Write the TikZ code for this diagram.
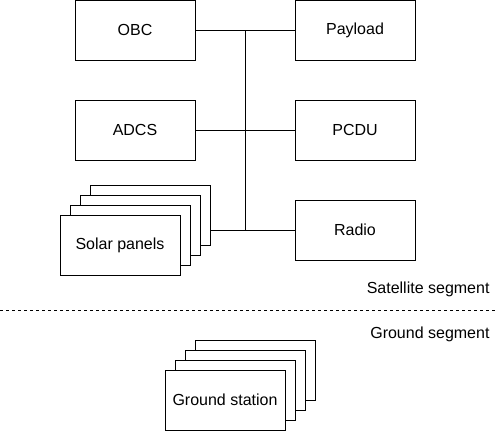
\documentclass[tikz,border=0pt]{standalone}
\usepackage{fontspec}
\setmainfont{Liberation Sans}
\begin{document}
\begin{tikzpicture}[x=1pt,y=-1pt,line width=1pt,
    unit/.style={draw,fill=white,minimum width=120pt,minimum height=60pt,inner sep=0pt,
      font=\fontsize{16}{19}\selectfont},
    segment/.style={anchor=east,inner sep=0pt,font=\fontsize{16}{19}\selectfont}]
  \useasboundingbox (0,0) rectangle (496,431);

  \node[unit] (obc) at (135, 30) {OBC};
  \node[unit] (payload) at (355, 30) {Payload};
  \node[unit] (adcs) at (135, 130) {ADCS};
  \node[unit] (pcdu) at (355, 130) {PCDU};
  \node[unit] (radio) at (355, 230) {Radio};

  \foreach \i in {3,2,1}
    \node[unit] (solar\i) at (120+10*\i, 245-10*\i) {};
  \node[unit] (solar) at (120, 245) {Solar panels};

  \coordinate (bus) at (245, 30);
  \draw (obc.east) -- (payload.west);
  \draw (adcs.east) -- (pcdu.west);
  \draw (radio.west) -- (radio.west -| solar3.east);
  \draw (bus) -- (bus |- radio.west);

  \coordinate (left) at (0, 310);
  \coordinate (right) at (496, 310);
  \draw[dash pattern=on 3pt off 3pt] (left) -- (right);
  \node[segment] (sat) at (490, 289) {Satellite segment};
  \node[segment] (gnd) at (490, 334) {Ground segment};

  \foreach \i in {3,2,1}
    \node[unit] (ground\i) at (225+10*\i, 400-10*\i) {};
  \node[unit] (ground) at (225, 400) {Ground station};
\end{tikzpicture}
\end{document}
